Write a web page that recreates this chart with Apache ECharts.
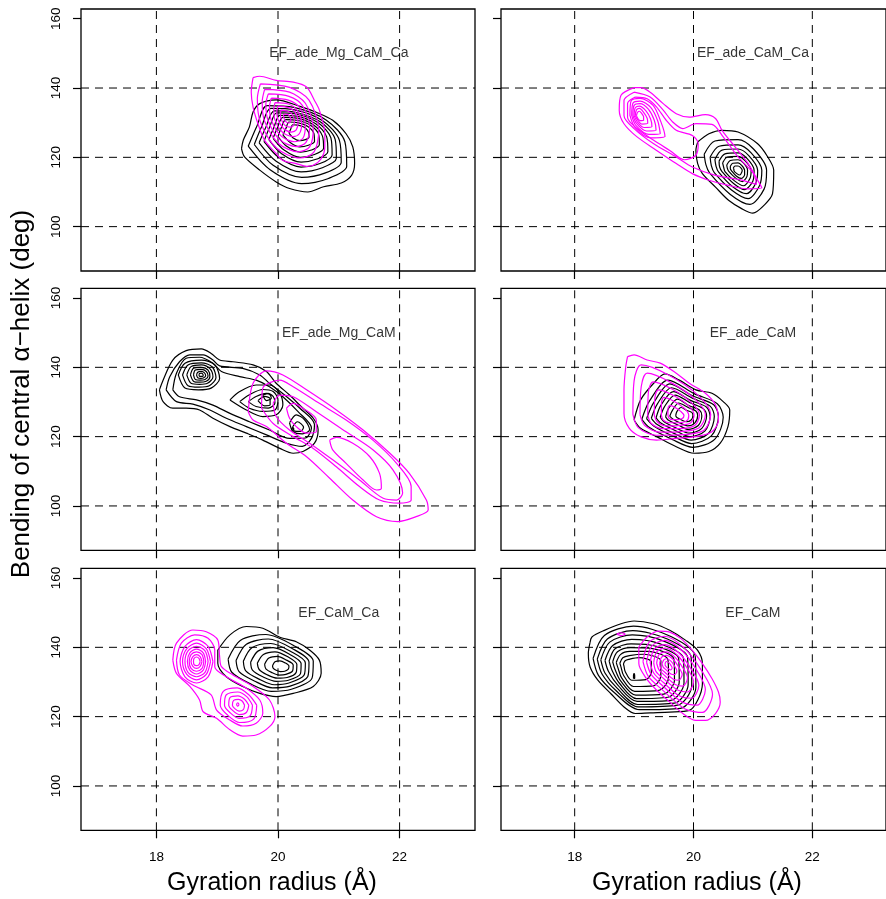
<!DOCTYPE html>
<html>
<head>
<meta charset="utf-8">
<title>Gyration radius vs bending of central helix</title>
<script src="https://cdn.jsdelivr.net/npm/echarts@6/dist/echarts.min.js"></script>
<style>
  html, body { margin: 0; padding: 0; background: #fff; }
  #chart { width: 886px; height: 899px; }
</style>
</head>
<body>
<div id="chart"></div>
<script>
// axes
var xTicks = [18, 20, 22];
var yTicks = [100, 120, 140, 160];
var xGridVals = [18, 20, 22];
var yGridVals = [100, 120, 140];
var xRange = [16.76, 23.24];
var yRange = [87.2, 162.8];
var panelNames = ['EF_ade_Mg_CaM_Ca', 'EF_ade_CaM_Ca', 'EF_ade_Mg_CaM', 'EF_ade_CaM', 'EF_CaM_Ca', 'EF_CaM'];
var namePos = [21, 150];

// contour rings (gyration radius, bending angle)
// panel 1: EF_ade_Mg_CaM_Ca
var p1Black = [
  [[19.40,122.5],[19.43,125.0],[19.53,128.8],[19.59,133.1],[19.70,135.5],[19.97,136.6],[20.36,134.7],[20.63,133.0],[20.90,130.7],[21.12,126.8],[21.23,123.0],[21.26,118.2],[21.21,114.8],[21.04,112.6],[20.75,111.5],[20.49,110.0],[20.19,111.0],[19.97,112.9],[19.70,116.3],[19.45,120.1]],
  [[19.51,123.2],[19.65,128.9],[19.82,134.9],[20.26,134.4],[20.79,130.8],[21.10,124.5],[21.13,117.4],[20.83,113.9],[20.39,112.4],[19.87,116.4]],
  [[19.61,123.7],[19.73,128.8],[19.88,134.1],[20.27,133.7],[20.74,130.5],[21.01,124.9],[21.04,118.6],[20.78,115.5],[20.39,114.2],[19.92,117.7]],
  [[19.69,124.2],[19.80,128.7],[19.94,133.4],[20.28,133.0],[20.70,130.2],[20.94,125.2],[20.96,119.7],[20.73,117.0],[20.38,115.8],[19.97,118.9]],
  [[19.77,124.6],[19.86,128.6],[19.98,132.8],[20.29,132.5],[20.66,130.0],[20.87,125.6],[20.89,120.7],[20.69,118.2],[20.38,117.2],[20.01,120.0]],
  [[19.85,125.1],[19.93,128.5],[20.03,132.1],[20.30,131.9],[20.62,129.7],[20.80,125.9],[20.82,121.6],[20.64,119.5],[20.38,118.6],[20.06,121.0]],
  [[19.92,125.5],[19.99,128.5],[20.08,131.5],[20.31,131.3],[20.58,129.4],[20.73,126.2],[20.75,122.6],[20.60,120.8],[20.37,120.0],[20.10,122.1]],
  [[20.00,126.0],[20.05,128.4],[20.13,130.9],[20.31,130.7],[20.54,129.2],[20.67,126.5],[20.68,123.6],[20.55,122.1],[20.37,121.5],[20.15,123.1]],
  [[20.08,126.5],[20.13,128.3],[20.18,130.2],[20.32,130.0],[20.49,128.9],[20.59,126.9],[20.60,124.6],[20.50,123.5],[20.36,123.0],[20.20,124.3]],
  [[20.18,127.0],[20.21,128.2],[20.24,129.4],[20.33,129.3],[20.44,128.6],[20.50,127.3],[20.51,125.8],[20.45,125.1],[20.36,124.8],[20.25,125.6]]
];
var p1Magenta = [
  [[19.59,143.0],[19.70,143.4],[19.97,142.2],[20.25,141.7],[20.47,140.3],[20.60,136.4],[20.68,133.6],[20.77,126.8],[20.77,123.0],[20.71,119.6],[20.58,117.7],[20.47,117.4],[20.30,118.2],[20.08,119.1],[19.97,121.1],[19.78,124.9],[19.67,129.7],[19.59,134.5],[19.56,138.8]],
  [[19.71,141.2],[20.19,140.2],[20.51,136.5],[20.67,127.7],[20.59,121.5],[20.36,119.8],[19.98,122.6],[19.71,130.2],[19.66,136.9]],
  [[19.78,139.6],[20.19,138.8],[20.45,135.6],[20.58,128.3],[20.52,123.0],[20.33,121.6],[20.01,124.0],[19.78,130.4],[19.74,136.0]],
  [[19.84,138.3],[20.18,137.6],[20.40,135.0],[20.52,128.8],[20.46,124.3],[20.30,123.1],[20.03,125.1],[19.84,130.5],[19.80,135.3]],
  [[19.89,137.1],[20.17,136.5],[20.36,134.3],[20.45,129.2],[20.41,125.5],[20.27,124.5],[20.05,126.2],[19.89,130.7],[19.86,134.6]],
  [[19.95,135.8],[20.17,135.4],[20.31,133.7],[20.39,129.7],[20.35,126.8],[20.25,126.0],[20.07,127.3],[19.95,130.8],[19.93,133.9]],
  [[20.00,134.8],[20.16,134.4],[20.28,133.1],[20.33,130.1],[20.30,127.9],[20.22,127.3],[20.09,128.3],[20.00,130.9],[19.98,133.2]],
  [[20.05,133.6],[20.16,133.3],[20.23,132.5],[20.27,130.5],[20.25,129.1],[20.20,128.7],[20.11,129.3],[20.05,131.1],[20.04,132.6]],
  [[20.10,132.5],[20.16,132.4],[20.19,131.9],[20.21,130.9],[20.20,130.1],[20.18,129.9],[20.13,130.3],[20.10,131.2],[20.09,132.0]]
];

// panel 2: EF_ade_CaM_Ca
var p2Black = [
  [[20.07,124.4],[20.26,126.8],[20.48,127.8],[20.75,127.3],[21.08,123.9],[21.25,120.1],[21.35,116.3],[21.33,109.5],[21.19,106.2],[21.00,103.9],[20.81,105.2],[20.59,107.6],[20.37,111.4],[20.15,115.3],[20.07,118.2],[20.04,122.0]],
  [[20.18,120.9],[20.36,124.7],[20.75,125.1],[21.01,122.4],[21.23,116.3],[21.19,110.9],[20.95,106.4],[20.62,109.3],[20.27,115.5],[20.21,117.8]],
  [[20.28,120.1],[20.43,123.2],[20.75,123.6],[20.97,121.3],[21.15,116.3],[21.11,111.8],[20.92,108.1],[20.64,110.6],[20.35,115.6],[20.30,117.6]],
  [[20.36,119.4],[20.48,122.1],[20.75,122.4],[20.93,120.5],[21.08,116.3],[21.05,112.6],[20.89,109.5],[20.66,111.5],[20.42,115.8],[20.38,117.4]],
  [[20.43,118.9],[20.53,121.0],[20.75,121.3],[20.90,119.7],[21.02,116.3],[21.00,113.2],[20.86,110.7],[20.68,112.4],[20.48,115.9],[20.44,117.2]],
  [[20.49,118.4],[20.57,120.1],[20.75,120.3],[20.87,119.0],[20.97,116.3],[20.95,113.9],[20.84,111.8],[20.69,113.2],[20.53,115.9],[20.51,117.0]],
  [[20.56,117.8],[20.62,119.1],[20.75,119.3],[20.84,118.4],[20.91,116.3],[20.90,114.5],[20.82,113.0],[20.71,114.0],[20.59,116.0],[20.57,116.8]],
  [[20.62,117.4],[20.66,118.3],[20.75,118.4],[20.81,117.7],[20.86,116.3],[20.86,115.0],[20.80,113.9],[20.72,114.6],[20.64,116.1],[20.62,116.7]],
  [[20.67,116.9],[20.70,117.5],[20.75,117.5],[20.79,117.1],[20.82,116.3],[20.81,115.6],[20.78,114.9],[20.73,115.3],[20.68,116.2],[20.68,116.5]]
];
var p2Magenta = [
  [[19.00,140.1],[18.78,137.9],[18.75,133.6],[18.83,129.7],[19.05,125.9],[19.38,122.0],[19.71,118.2],[19.98,115.3],[20.26,113.4],[20.59,111.9],[20.92,110.9],[21.15,111.2],[21.08,113.4],[20.92,118.2],[20.70,123.0],[20.48,127.8],[20.37,131.2],[20.20,132.3],[19.93,131.6],[19.71,132.6],[19.49,135.5],[19.27,138.8],[19.11,140.1]],
  [[19.00,138.8],[18.83,136.4],[18.83,132.1],[19.00,128.3],[19.33,123.9],[19.71,120.1],[19.98,117.2],[20.37,114.8],[20.81,113.4],[21.06,112.2],[21.01,115.3],[20.75,120.1],[20.50,125.9],[20.31,129.5],[20.04,129.7],[19.82,128.3],[19.65,130.2],[19.49,133.6],[19.27,137.4]],
  [[19.02,137.4],[18.89,135.5],[18.89,131.6],[19.05,128.3],[19.33,124.9],[19.60,122.0],[19.85,119.3],[20.04,120.6],[20.08,123.9],[19.98,126.3],[19.71,127.8],[19.54,130.7],[19.38,134.5],[19.22,136.9]],
  [[18.93,132.1],[18.95,136.3],[19.10,137.0],[19.32,135.0],[19.45,130.3],[19.52,126.0],[19.28,125.6],[19.02,128.5]],
  [[18.96,132.1],[18.98,135.6],[19.10,136.2],[19.28,134.4],[19.40,130.4],[19.44,126.8],[19.25,126.6],[19.03,129.2]],
  [[18.98,132.1],[19.00,135.0],[19.10,135.5],[19.24,133.9],[19.34,130.7],[19.37,127.8],[19.21,127.6],[19.04,129.8]],
  [[19.00,132.1],[19.02,134.3],[19.09,134.8],[19.20,133.4],[19.28,131.0],[19.30,128.8],[19.17,128.6],[19.05,130.3]],
  [[19.02,132.1],[19.04,133.7],[19.09,134.1],[19.16,133.0],[19.22,131.3],[19.23,129.8],[19.13,129.6],[19.06,130.8]],
  [[19.04,132.1],[19.06,133.0],[19.09,133.3],[19.13,132.6],[19.16,131.7],[19.16,130.7],[19.10,130.6],[19.06,131.3]]
];

// panel 3: EF_ade_Mg_CaM
var p3Black = [
  [[18.05,133.5],[18.11,136.3],[18.27,142.1],[18.49,144.8],[18.74,145.3],[18.90,144.0],[19.04,142.1],[19.26,141.6],[19.59,140.7],[19.81,138.8],[19.97,135.4],[20.19,132.0],[20.38,128.7],[20.58,125.3],[20.66,122.0],[20.60,118.1],[20.41,115.7],[20.25,115.2],[20.03,116.6],[19.75,119.0],[19.48,121.0],[19.21,122.9],[18.93,125.3],[18.71,127.7],[18.49,128.2],[18.27,128.2],[18.11,130.1]],
  [[18.16,133.5],[18.22,137.3],[18.38,141.6],[18.55,143.6],[18.77,143.6],[18.93,142.1],[19.04,140.4],[19.42,139.7],[19.70,137.8],[19.86,135.4],[20.11,132.0],[20.36,128.2],[20.60,123.5],[20.55,119.5],[20.40,117.2],[20.14,118.1],[19.81,120.5],[19.48,122.9],[19.15,125.3],[18.88,127.7],[18.60,129.4],[18.33,130.1]],
  [[18.27,133.5],[18.33,138.3],[18.49,142.6],[18.71,142.9],[18.93,141.2],[19.07,138.8],[19.37,137.3],[19.64,136.3],[19.86,134.4],[20.08,131.5],[20.33,127.2],[20.55,122.5],[20.45,119.6],[20.19,119.5],[19.86,121.9],[19.53,124.3],[19.21,126.7],[18.93,129.1],[18.66,130.6],[18.38,131.5]],
  [[18.36,137.8],[18.47,141.2],[18.74,142.1],[18.96,140.7],[19.04,136.8],[18.90,134.0],[18.69,133.5],[18.47,134.0]],
  [[18.43,137.8],[18.52,140.7],[18.74,141.3],[18.92,140.1],[18.98,137.0],[18.87,134.7],[18.70,134.3],[18.52,134.7]],
  [[18.50,137.8],[18.57,140.2],[18.74,140.7],[18.88,139.6],[18.93,137.2],[18.84,135.4],[18.71,135.1],[18.57,135.4]],
  [[18.56,137.8],[18.61,139.7],[18.74,140.0],[18.85,139.2],[18.88,137.3],[18.82,136.0],[18.71,135.7],[18.61,136.0]],
  [[18.61,137.8],[18.64,139.2],[18.74,139.4],[18.82,138.8],[18.85,137.5],[18.80,136.5],[18.72,136.3],[18.64,136.5]],
  [[18.66,137.8],[18.68,138.6],[18.74,138.8],[18.79,138.4],[18.81,137.6],[18.78,137.0],[18.73,136.8],[18.68,137.0]],
  [[18.70,137.8],[18.71,138.2],[18.74,138.3],[18.76,138.1],[18.77,137.7],[18.76,137.4],[18.73,137.4],[18.71,137.4]],
  [[19.21,130.6],[19.37,133.0],[19.64,134.9],[19.86,134.9],[20.03,132.5],[20.08,129.1],[19.97,126.3],[19.75,125.8],[19.48,127.7]],
  [[19.37,130.1],[19.53,132.1],[19.75,133.6],[19.92,133.0],[20.00,130.6],[19.95,127.7],[19.75,127.3],[19.53,128.2]],
  [[19.51,130.1],[19.64,131.6],[19.81,132.5],[19.92,131.6],[19.95,129.7],[19.84,128.2],[19.64,128.7]],
  [[19.67,130.4],[19.78,131.6],[19.87,130.9],[19.87,129.1],[19.78,128.9]],
  [[19.75,132.0],[19.84,132.5],[19.89,131.1],[19.81,130.4]],
  [[20.19,124.0],[20.30,126.3],[20.44,124.8],[20.52,122.0],[20.40,120.8],[20.25,121.4]],
  [[20.24,122.8],[20.32,124.3],[20.42,122.7],[20.37,121.5],[20.27,121.6]],
  [[20.22,122.3],[20.25,122.5],[20.26,122.1],[20.23,121.9]]
];
var p3Magenta = [
  [[19.51,127.2],[19.59,135.4],[19.81,139.0],[20.08,137.8],[20.47,133.5],[20.96,127.7],[21.40,121.9],[21.84,115.2],[22.16,109.4],[22.44,101.7],[22.47,98.8],[22.27,96.9],[21.97,95.5],[21.62,96.9],[21.23,101.7],[20.85,108.0],[20.47,114.2],[20.14,118.1],[19.81,122.9],[19.59,124.8]],
  [[19.73,128.2],[19.75,134.0],[20.03,136.3],[20.25,134.4],[20.68,129.6],[21.12,124.8],[21.56,119.0],[21.95,112.3],[22.19,105.6],[22.19,101.7],[22.00,100.8],[21.67,101.7],[21.34,105.6],[20.96,111.3],[20.58,116.6],[20.25,120.0],[19.92,123.8]],
  [[19.92,129.6],[20.03,132.0],[20.25,131.5],[20.63,127.2],[21.12,121.4],[21.56,116.2],[21.89,110.4],[22.05,103.7],[21.95,101.7],[21.73,102.2],[21.34,107.5],[20.90,113.3],[20.52,118.1],[20.19,121.9],[19.97,125.8]],
  [[20.85,119.0],[20.96,119.8],[21.23,118.1],[21.51,114.2],[21.67,109.4],[21.70,105.1],[21.62,104.6],[21.40,107.5],[21.12,112.3],[20.90,116.2]],
  [[20.14,128.2],[20.25,129.6],[20.41,128.2],[20.63,124.8],[20.63,121.4],[20.47,121.0],[20.30,122.9],[20.19,125.3]]
];

// panel 4: EF_ade_CaM
var p4Black = [
  [[19.00,124.8],[19.11,130.6],[19.33,135.4],[19.52,138.1],[19.76,136.3],[20.04,133.5],[20.31,132.5],[20.50,130.1],[20.61,127.7],[20.58,122.9],[20.45,118.1],[20.26,115.7],[20.01,115.2],[19.71,117.1],[19.38,120.0],[19.11,122.4]],
  [[19.13,125.0],[19.26,130.3],[19.57,136.3],[20.01,132.4],[20.40,129.5],[20.50,125.6],[20.36,119.3],[19.99,116.9],[19.64,119.2],[19.26,122.6]],
  [[19.21,125.2],[19.33,129.8],[19.60,135.2],[19.99,131.7],[20.34,129.2],[20.42,125.7],[20.30,120.2],[19.97,118.0],[19.66,120.1],[19.33,123.1]],
  [[19.29,125.3],[19.39,129.4],[19.63,134.1],[19.98,131.1],[20.28,128.8],[20.35,125.8],[20.25,120.9],[19.96,119.0],[19.69,120.8],[19.39,123.5]],
  [[19.37,125.4],[19.45,129.0],[19.66,133.0],[19.96,130.4],[20.22,128.5],[20.28,125.8],[20.19,121.6],[19.94,120.0],[19.71,121.6],[19.45,123.9]],
  [[19.44,125.6],[19.51,128.6],[19.69,132.0],[19.94,129.8],[20.16,128.1],[20.22,125.9],[20.14,122.4],[19.93,121.0],[19.73,122.3],[19.51,124.2]],
  [[19.53,125.7],[19.58,128.1],[19.73,130.8],[19.92,129.0],[20.10,127.7],[20.14,126.0],[20.08,123.2],[19.91,122.1],[19.76,123.2],[19.58,124.7]],
  [[19.60,125.9],[19.65,127.7],[19.75,129.7],[19.91,128.4],[20.04,127.4],[20.07,126.1],[20.02,123.9],[19.90,123.1],[19.78,123.9],[19.65,125.1]],
  [[19.70,126.0],[19.72,127.2],[19.79,128.4],[19.88,127.6],[19.97,127.0],[19.99,126.2],[19.96,124.8],[19.88,124.3],[19.80,124.8],[19.72,125.5]]
];
var p4Magenta = [
  [[18.89,143.1],[19.00,143.6],[19.22,142.1],[19.44,141.2],[19.71,138.3],[19.93,135.4],[20.20,132.5],[20.37,129.1],[20.42,124.8],[20.31,121.4],[20.04,120.0],[19.71,119.5],[19.38,119.0],[19.11,120.0],[18.92,122.4],[18.83,126.7],[18.83,133.5],[18.86,140.2]],
  [[18.98,126.4],[19.00,136.1],[19.12,140.7],[19.58,137.8],[20.08,131.9],[20.29,126.4],[20.17,121.8],[19.75,120.5],[19.37,120.4],[19.07,122.6]],
  [[19.10,126.3],[19.12,134.4],[19.22,138.3],[19.60,135.8],[20.02,130.9],[20.20,126.3],[20.09,122.5],[19.74,121.4],[19.43,121.3],[19.18,123.2]],
  [[19.23,126.3],[19.24,132.7],[19.32,135.8],[19.63,133.8],[19.96,129.9],[20.10,126.3],[20.02,123.2],[19.74,122.3],[19.49,122.3],[19.29,123.8]],
  [[19.34,126.2],[19.35,131.2],[19.41,133.5],[19.65,132.0],[19.91,129.0],[20.01,126.2],[19.95,123.9],[19.73,123.2],[19.54,123.1],[19.39,124.3]],
  [[19.46,126.1],[19.46,129.6],[19.50,131.3],[19.67,130.2],[19.85,128.1],[19.92,126.1],[19.88,124.5],[19.73,124.0],[19.59,124.0],[19.49,124.8]],
  [[19.57,126.1],[19.57,128.0],[19.60,129.0],[19.69,128.4],[19.79,127.2],[19.84,126.1],[19.81,125.2],[19.73,124.9],[19.65,124.9],[19.59,125.3]]
];

// panel 5: EF_CaM_Ca
var p5Black = [
  [[19.01,139.2],[19.21,143.6],[19.48,146.0],[19.75,145.5],[20.03,142.9],[20.30,141.6],[20.52,139.2],[20.68,136.3],[20.71,132.5],[20.58,128.7],[20.25,126.7],[19.97,125.8],[19.70,126.7],[19.42,128.7],[19.15,131.5],[19.01,135.4]],
  [[19.18,136.6],[19.38,142.0],[19.80,143.7],[20.27,140.4],[20.58,136.0],[20.56,131.1],[20.22,127.9],[19.89,127.3],[19.53,129.6],[19.24,132.8]],
  [[19.31,136.2],[19.48,140.9],[19.84,142.4],[20.24,139.6],[20.51,135.7],[20.49,131.6],[20.20,128.8],[19.91,128.3],[19.61,130.3],[19.36,133.0]],
  [[19.43,136.0],[19.57,139.9],[19.88,141.1],[20.21,138.8],[20.45,135.5],[20.43,132.0],[20.18,129.7],[19.94,129.2],[19.68,130.9],[19.47,133.2]],
  [[19.55,135.7],[19.67,138.9],[19.92,139.9],[20.19,138.0],[20.38,135.3],[20.37,132.4],[20.17,130.5],[19.97,130.2],[19.75,131.5],[19.58,133.4]],
  [[19.66,135.4],[19.76,137.9],[19.95,138.7],[20.17,137.2],[20.31,135.1],[20.30,132.8],[20.15,131.3],[19.99,131.1],[19.82,132.1],[19.69,133.6]],
  [[19.78,135.1],[19.85,136.9],[19.99,137.4],[20.14,136.3],[20.25,134.9],[20.24,133.2],[20.13,132.2],[20.02,132.0],[19.90,132.7],[19.80,133.8]],
  [[19.91,134.7],[19.95,135.8],[20.03,136.1],[20.12,135.5],[20.18,134.6],[20.17,133.7],[20.11,133.1],[20.04,133.0],[19.97,133.4],[19.92,134.0]]
];
var p5Magenta = [
  [[18.27,136.3],[18.33,141.2],[18.60,145.0],[18.82,144.5],[19.01,142.1],[19.04,137.3],[19.07,134.4],[19.26,132.0],[19.59,128.7],[19.86,124.8],[19.95,120.0],[19.86,117.1],[19.64,114.7],[19.42,114.4],[19.21,116.2],[18.99,119.5],[18.77,121.4],[18.71,124.8],[18.55,128.7],[18.33,132.5]],
  [[18.33,136.3],[18.41,141.2],[18.63,143.6],[18.85,142.6],[18.96,139.2],[18.96,134.4],[19.15,131.5],[19.48,128.2],[19.70,124.8],[19.75,121.0],[19.64,118.1],[19.42,117.3],[19.21,119.0],[18.99,121.9],[18.90,126.3],[18.60,129.1],[18.38,132.0]],
  [[18.93,135.9],[18.85,140.3],[18.66,142.2],[18.47,140.3],[18.39,135.9],[18.47,131.5],[18.66,129.7],[18.85,131.5]],
  [[18.89,135.9],[18.82,139.6],[18.66,141.2],[18.50,139.6],[18.43,135.9],[18.50,132.2],[18.66,130.6],[18.82,132.2]],
  [[18.85,135.9],[18.80,139.0],[18.66,140.3],[18.52,139.0],[18.47,135.9],[18.52,132.8],[18.66,131.5],[18.80,132.8]],
  [[18.81,135.9],[18.77,138.4],[18.66,139.5],[18.55,138.4],[18.51,135.9],[18.55,133.4],[18.66,132.3],[18.77,133.4]],
  [[18.78,135.9],[18.75,137.9],[18.66,138.7],[18.57,137.9],[18.54,135.9],[18.57,133.9],[18.66,133.1],[18.75,133.9]],
  [[18.75,135.9],[18.72,137.3],[18.66,137.9],[18.60,137.3],[18.57,135.9],[18.60,134.5],[18.66,133.9],[18.72,134.5]],
  [[18.72,135.9],[18.70,136.8],[18.66,137.2],[18.62,136.8],[18.61,135.9],[18.62,135.0],[18.66,134.7],[18.70,135.0]],
  [[19.65,123.3],[19.52,126.3],[19.33,128.3],[19.10,127.3],[19.05,123.3],[19.18,120.3],[19.37,118.3],[19.60,119.3]],
  [[19.58,123.3],[19.49,125.7],[19.34,127.1],[19.15,126.3],[19.12,123.3],[19.22,121.0],[19.36,119.5],[19.54,120.2]],
  [[19.52,123.3],[19.45,125.0],[19.34,126.0],[19.21,125.5],[19.19,123.3],[19.26,121.7],[19.36,120.6],[19.48,121.2]],
  [[19.45,123.3],[19.41,124.5],[19.35,125.0],[19.27,124.7],[19.25,123.3],[19.29,122.3],[19.36,121.6],[19.43,122.0]],
  [[19.36,123.5],[19.34,124.0],[19.32,123.5],[19.34,123.0]]
];

// panel 6: EF_CaM
var p6Black = [
  [[18.26,141.5],[18.29,143.0],[18.50,144.9],[18.78,146.8],[19.00,147.6],[19.33,146.8],[19.60,144.9],[19.87,142.0],[20.07,139.1],[20.15,135.3],[20.15,129.5],[20.07,124.7],[19.93,121.8],[19.60,121.3],[19.27,121.1],[19.02,120.9],[18.83,122.8],[18.61,126.6],[18.39,130.5],[18.26,134.3],[18.23,138.2]],
  [[18.31,136.8],[18.50,143.4],[18.99,146.1],[19.62,143.1],[20.03,137.3],[20.04,128.5],[19.78,122.4],[19.09,122.0],[18.67,126.9],[18.40,131.9]],
  [[18.38,136.6],[18.55,142.4],[18.98,144.8],[19.56,142.4],[19.96,137.2],[19.97,128.9],[19.73,123.3],[19.07,122.8],[18.69,127.6],[18.46,132.3]],
  [[18.44,136.4],[18.59,141.5],[18.97,143.6],[19.50,141.8],[19.90,137.1],[19.91,129.3],[19.68,123.9],[19.06,123.5],[18.71,128.3],[18.51,132.6]],
  [[18.51,136.2],[18.64,140.5],[18.96,142.3],[19.44,141.0],[19.83,136.9],[19.84,129.7],[19.62,124.7],[19.05,124.4],[18.73,129.0],[18.57,133.0]],
  [[18.58,136.0],[18.68,139.6],[18.95,141.0],[19.37,140.3],[19.75,136.8],[19.76,130.1],[19.57,125.6],[19.04,125.2],[18.75,129.7],[18.63,133.3]],
  [[18.64,135.8],[18.72,138.7],[18.94,139.9],[19.31,139.6],[19.67,136.6],[19.68,130.6],[19.50,126.5],[19.03,126.2],[18.77,130.4],[18.68,133.6]],
  [[18.70,135.6],[18.77,137.9],[18.93,138.8],[19.24,138.8],[19.57,136.4],[19.58,131.2],[19.42,127.6],[19.01,127.3],[18.79,131.2],[18.73,134.0]],
  [[18.76,135.4],[18.81,137.0],[18.92,137.6],[19.16,138.0],[19.45,136.1],[19.45,131.9],[19.33,128.9],[18.99,128.7],[18.82,132.0],[18.78,134.3]],
  [[18.82,135.2],[18.85,136.1],[18.91,136.5],[19.08,137.0],[19.29,135.8],[19.29,132.8],[19.20,130.7],[18.96,130.5],[18.85,133.0],[18.83,134.6]],
  [[18.99,131.0],[19.01,131.0],[19.01,131.9],[19.00,132.4],[18.99,131.9]]
];
var p6Magenta = [
  [[19.08,140.1],[19.22,143.0],[19.41,144.7],[19.60,144.4],[19.79,142.5],[19.98,139.1],[20.15,135.3],[20.31,131.0],[20.42,127.1],[20.45,124.2],[20.37,120.9],[20.20,118.9],[20.04,118.9],[19.82,120.9],[19.60,124.2],[19.38,127.6],[19.19,131.4],[19.08,135.3]],
  [[19.15,135.9],[19.25,141.4],[19.51,143.2],[19.85,139.7],[20.15,132.9],[20.32,126.5],[20.15,121.2],[19.85,122.3],[19.47,127.8],[19.24,131.6]],
  [[19.21,135.7],[19.30,140.4],[19.52,142.0],[19.81,139.0],[20.06,133.2],[20.20,127.8],[20.06,123.3],[19.81,124.2],[19.48,128.9],[19.29,132.1]],
  [[19.27,135.6],[19.34,139.5],[19.52,140.8],[19.76,138.3],[19.97,133.5],[20.09,129.0],[19.97,125.3],[19.76,126.0],[19.49,129.9],[19.33,132.6]],
  [[19.33,135.5],[19.38,138.7],[19.53,139.8],[19.73,137.7],[19.90,133.8],[20.00,130.1],[19.90,127.1],[19.73,127.7],[19.51,130.8],[19.37,133.0]],
  [[19.38,135.4],[19.42,137.9],[19.54,138.7],[19.69,137.1],[19.82,134.1],[19.90,131.2],[19.82,128.8],[19.69,129.3],[19.52,131.8],[19.42,133.5]],
  [[19.43,135.3],[19.46,137.1],[19.54,137.7],[19.66,136.5],[19.75,134.3],[19.81,132.2],[19.75,130.5],[19.66,130.8],[19.53,132.6],[19.45,133.9]],
  [[19.47,135.2],[19.50,136.4],[19.55,136.7],[19.62,136.0],[19.68,134.6],[19.72,133.2],[19.68,132.1],[19.62,132.3],[19.54,133.5],[19.49,134.3]],
  [[19.52,135.1],[19.53,135.7],[19.55,135.9],[19.59,135.5],[19.62,134.8],[19.64,134.1],[19.62,133.5],[19.59,133.7],[19.55,134.2],[19.53,134.6]],
  [[18.71,143.8],[18.78,144.2],[18.85,143.8],[18.78,143.4]]
];

var panelBlack = [p1Black, p2Black, p3Black, p4Black, p5Black, p6Black];
var panelMagenta = [p1Magenta, p2Magenta, p3Magenta, p4Magenta, p5Magenta, p6Magenta];

var FONT = '"Liberation Sans", Arial, Helvetica, sans-serif';
var chart = echarts.init(document.getElementById('chart'), null, { renderer: 'canvas' });

var colLeft = [81, 501];
var rowTop = [9, 288.3, 568.3];
var grids = [], xAxes = [], yAxes = [], series = [];

for (var i = 0; i < 6; i++) {
  var row = Math.floor(i / 2), col = i % 2;
  grids.push({
    left: colLeft[col], top: rowTop[row], width: 394, height: 262,
    show: true, borderColor: '#000', borderWidth: 1.3, backgroundColor: 'transparent'
  });
  xAxes.push({
    type: 'value', gridIndex: i, min: xRange[0], max: xRange[1],
    axisLine: { show: false },
    splitLine: { show: false },
    axisTick: { show: true, inside: false, length: 8, customValues: xTicks, lineStyle: { color: '#000', width: 1.2 } },
    axisLabel: { show: row === 2, customValues: xTicks, margin: 20, fontSize: 13.5, color: '#000', fontFamily: FONT }
  });
  yAxes.push({
    type: 'value', gridIndex: i, min: yRange[0], max: yRange[1],
    axisLine: { show: false },
    splitLine: { show: false },
    axisTick: { show: true, inside: false, length: 8, customValues: yTicks, lineStyle: { color: '#000', width: 1.2 } },
    axisLabel: { show: col === 0, rotate: 90, customValues: yTicks, margin: 18, fontSize: 13.5, color: '#000', fontFamily: FONT }
  });

  // dashed reference grid
  xGridVals.forEach(function (v) {
    series.push({ type: 'line', xAxisIndex: i, yAxisIndex: i, data: [[v, yRange[0]], [v, yRange[1]]],
      symbol: 'none', silent: true, animation: false, z: 1,
      lineStyle: { color: '#000', width: 1, type: [8, 6] } });
  });
  yGridVals.forEach(function (v) {
    series.push({ type: 'line', xAxisIndex: i, yAxisIndex: i, data: [[xRange[0], v], [xRange[1], v]],
      symbol: 'none', silent: true, animation: false, z: 1,
      lineStyle: { color: '#000', width: 1, type: [8, 6] } });
  });

  panelBlack[i].forEach(function (ring) {
    series.push({ type: 'line', xAxisIndex: i, yAxisIndex: i, data: ring.concat([ring[0]]),
      smooth: 0.3, symbol: 'none', silent: true, animation: false, z: 2,
      lineStyle: { color: '#000', width: 1.2 } });
  });
  panelMagenta[i].forEach(function (ring) {
    series.push({ type: 'line', xAxisIndex: i, yAxisIndex: i, data: ring.concat([ring[0]]),
      smooth: 0.3, symbol: 'none', silent: true, animation: false, z: 3,
      lineStyle: { color: '#ff00ff', width: 1.2 } });
  });

  series.push({
    type: 'scatter', xAxisIndex: i, yAxisIndex: i, data: [namePos],
    symbolSize: 1, itemStyle: { color: 'rgba(0,0,0,0)' }, silent: true, animation: false, z: 4,
    label: { show: true, position: 'inside', formatter: panelNames[i], fontSize: 14, color: '#000', fontFamily: FONT }
  });
}

chart.setOption({
  backgroundColor: '#fff',
  animation: false,
  grid: grids,
  xAxis: xAxes,
  yAxis: yAxes,
  series: series,
  graphic: [
    { type: 'text', x: 22, y: 394, rotation: Math.PI / 2,
      style: { text: 'Bending of central α−helix (deg)', font: '26px ' + FONT, fill: '#000', align: 'center', verticalAlign: 'middle' } },
    { type: 'text', x: 272, y: 883,
      style: { text: 'Gyration radius (Å)', font: '25px ' + FONT, fill: '#000', align: 'center', verticalAlign: 'middle' } },
    { type: 'text', x: 697, y: 883,
      style: { text: 'Gyration radius (Å)', font: '25px ' + FONT, fill: '#000', align: 'center', verticalAlign: 'middle' } }
  ]
});
</script>
</body>
</html>
